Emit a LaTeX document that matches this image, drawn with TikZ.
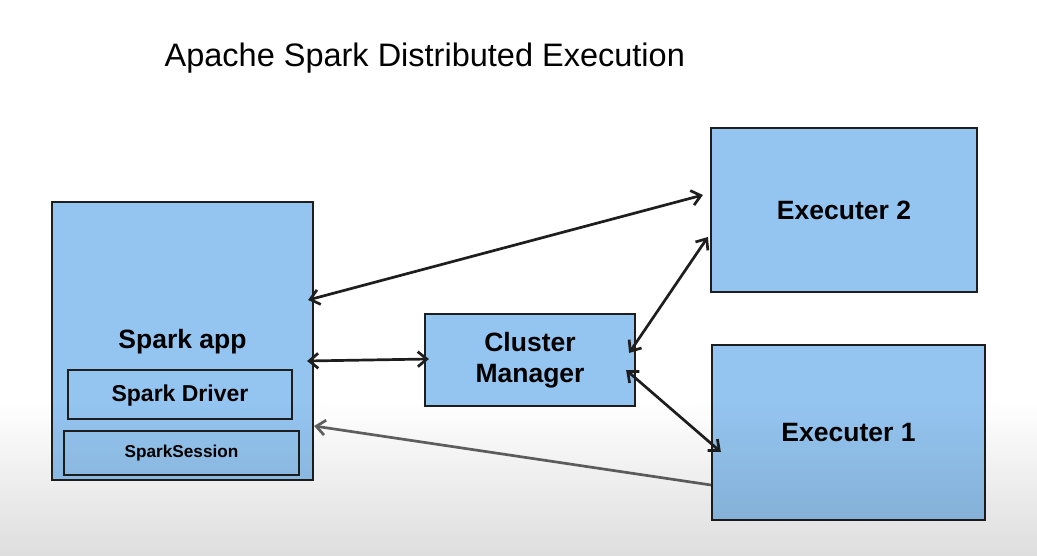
\documentclass[tikz,border=0pt]{standalone}
\usepackage{fontspec}
\setmainfont{Liberation Sans}
\usetikzlibrary{arrows.meta}
\definecolor{boxblue}{RGB}{148,197,240}
\definecolor{edgegray}{RGB}{30,30,30}

\begin{document}
\begin{tikzpicture}[x=1pt, y=-1pt, semithick,
    block/.style={draw=edgegray, line width=2.2pt, fill=boxblue, inner sep=0pt,
      align=center, font=\bfseries\fontsize{26.5}{31}\selectfont},
    inner/.style={block, line width=2pt},
    barb/.tip={Straight Barb[length=9pt, width=15pt, line width=2.7pt]},
    link/.style={draw=edgegray, line width=2.7pt, {barb}-{barb}}]
    \useasboundingbox (0,0) rectangle (1037,556);
    \fill[white] (0,0) rectangle (1037,556);

    \node[anchor=base west, font=\fontsize{32.5}{38}\selectfont] (title) at (161,67) {Apache Spark Distributed Execution};

    \node[block, minimum width=261pt, minimum height=278pt, text depth=4pt] (app) at (182.5,341) {Spark app};
    \node[inner, minimum width=224pt, minimum height=49pt, text depth=3pt, font=\bfseries\fontsize{23}{27}\selectfont] (driver) at (180,394.5) {Spark Driver};
    \node[inner, minimum width=235pt, minimum height=44pt, font=\bfseries\fontsize{17.2}{20}\selectfont] (session) at (181.5,453) {SparkSession};
    \node[block, minimum width=210pt, minimum height=92pt] (cm) at (530,360) {Cluster\\Manager};
    \node[block, minimum width=266pt, minimum height=164pt] (ex2) at (844,210) {Executer 2};
    \node[block, minimum width=273pt, minimum height=175pt] (ex1) at (848.5,432.5) {Executer 1};

    \draw[link] ([yshift=41pt, xshift=-6pt]app.east) -- ([yshift=15pt, xshift=-7pt]ex2.west);
    \draw[link] ([yshift=-20pt, xshift=-7pt]app.east) -- ([yshift=1pt, xshift=5pt]cm.west);
    \draw[link] ([yshift=7pt, xshift=-7pt]cm.east) -- ([yshift=-27pt, xshift=-2pt]ex2.west);
    \draw[link] ([yshift=-10pt, xshift=-10pt]cm.east) -- ([yshift=-19.5pt, xshift=10pt]ex1.west);
    \draw[draw=black!62, line width=2.7pt, {barb}-] ([yshift=-85pt]app.east) -- ([yshift=-52.5pt]ex1.west);

    % light shadow towards the bottom of the slide
    \foreach \i in {0,...,38}
      \fill[black, opacity=0.0034*\i] (0,400+4*\i) rectangle (1037,404+4*\i);
\end{tikzpicture}
\end{document}
